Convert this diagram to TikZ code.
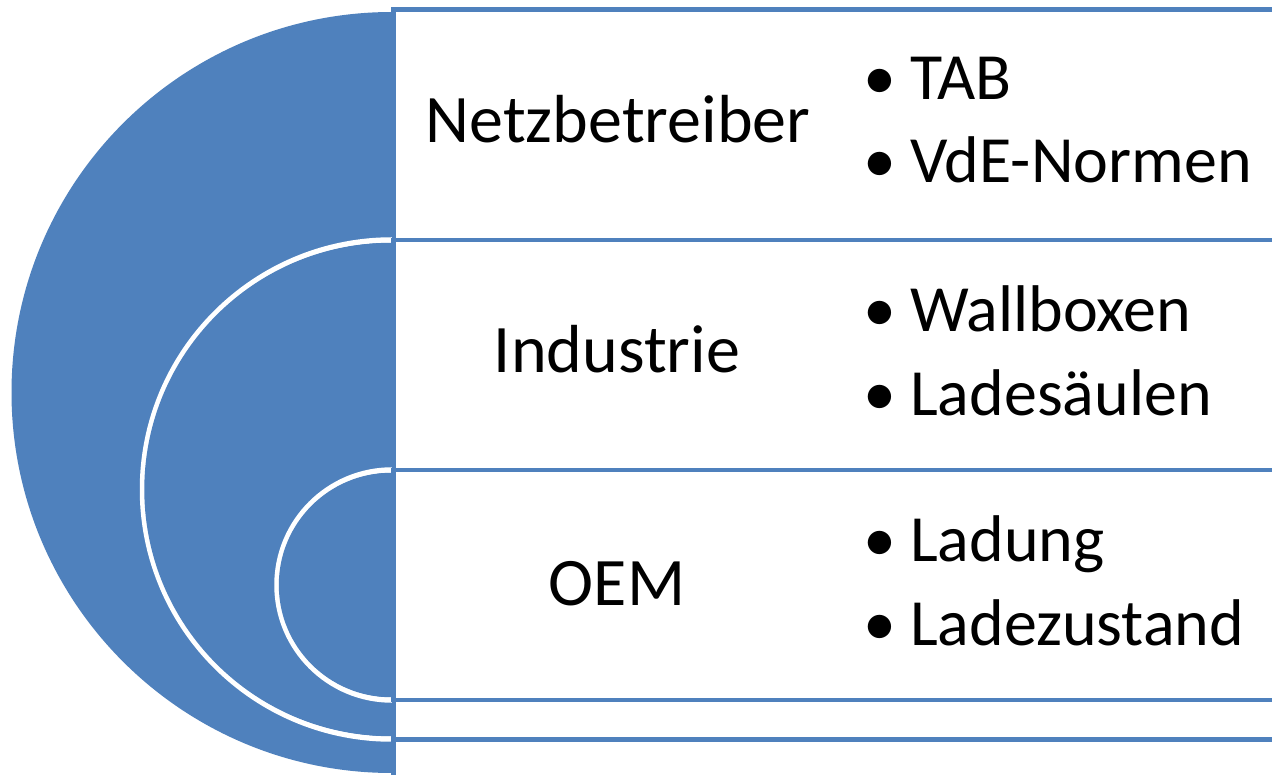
\documentclass[tikz,border=0pt]{standalone}
\usepackage{fontspec}
\setmainfont{Carlito}
\definecolor{obl}{HTML}{4F81BD}
\begin{document}
\begin{tikzpicture}[x=1pt,y=-1pt,
  ring/.style={fill=obl,draw=white,line width=5.5pt},
  boxline/.style={draw=obl,line width=4.5pt,fill=white},
  lbl/.style={anchor=base,inner sep=0pt,font=\fontsize{68}{80}\selectfont},
  itm/.style={anchor=base west,inner sep=0pt,font=\fontsize{66}{80}\selectfont}]
\useasboundingbox (0,0) rectangle (1272,775);
\fill[white] (0,0) rectangle (1272,775);
\begin{scope}
\clip (0,0) rectangle (1272,775);
% outer level
\fill[obl] (392,12) arc[start angle=90,end angle=270,radius=380.5pt] -- cycle;
\path[boxline] (393.5,9.5) rectangle (1300,800);
% middle level
\path[ring] (392,240) arc[start angle=90,end angle=270,radius=249.5pt];
\fill[obl] (391,242.8) arc[start angle=90,end angle=270,radius=246.7pt] -- cycle;
\path[boxline] (393.5,240) rectangle (1300,739.5);
% inner level
\path[ring] (392,470) arc[start angle=90,end angle=270,radius=115pt];
\fill[obl] (391,472.8) arc[start angle=90,end angle=270,radius=112.2pt] -- cycle;
\path[boxline] (393.5,470) rectangle (1300,700);
\end{scope}
% labels
\node[lbl] (n1) at (618,143) {Netzbetreiber};
\node[lbl] (n2) at (617,373) {Industrie};
\node[lbl] (n3) at (617,605) {OEM};
\node[itm] (b11) at (863,100) {\makebox[47pt][l]{•}TAB};
\node[itm] (b12) at (863,183) {\makebox[47pt][l]{•}VdE-Normen};
\node[itm] (b21) at (863,332) {\makebox[47pt][l]{•}Wallboxen};
\node[itm] (b22) at (863,416) {\makebox[47pt][l]{•}Ladesäulen};
\node[itm] (b31) at (863,561) {\makebox[47pt][l]{•}Ladung};
\node[itm] (b32) at (863,645) {\makebox[47pt][l]{•}Ladezustand};
\end{tikzpicture}
\end{document}
